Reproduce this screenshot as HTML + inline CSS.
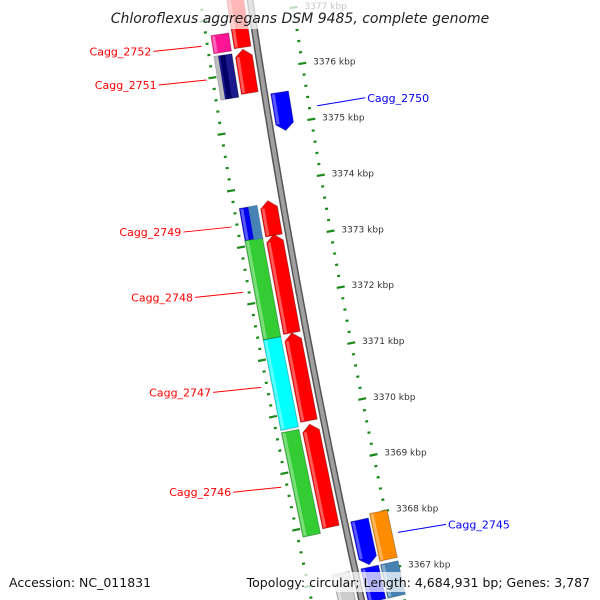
<!DOCTYPE html>
<html><head><meta charset="utf-8"><style>
body{margin:0;background:#fff;width:600px;height:600px;overflow:hidden}
svg{display:block;font-family:"DejaVu Sans","Liberation Sans",sans-serif}
</style></head><body>
<svg id="map" width="600" height="600" viewBox="0 0 600 600"></svg>
<script>
// ---- data ----
const tickKbp = [3378,3377,3376,3375,3374,3373,3372,3371,3370,3369,3368,3367,3366];
const tickLabels = ["3378 kbp","3377 kbp","3376 kbp","3375 kbp","3374 kbp","3373 kbp","3372 kbp","3371 kbp","3370 kbp","3369 kbp","3368 kbp","3367 kbp","3366 kbp"];
const geneStart = [3377.42,3376.73,3376.36,3376.41,3375.56,3373.67,3373.72,3373.12,3373.10,3371.37,3371.34,3369.75,3369.70,3367.94,3368.01,3367.10,3367.10,3367.10];
const geneEnd   = [3376.44,3376.41,3375.59,3375.63,3374.88,3373.08,3373.10,3371.37,3371.34,3369.81,3369.74,3367.92,3367.85,3367.14,3367.16,3366.50,3366.50,3366.50];
const geneTrack = [1,0,0,1,2,0,1,1,0,1,0,1,0,2,3,2,1,3];
const geneColor = ["#ff0000","#ff1493","#1a1a8c","#ff0000","#0000ff","#0000ee","#ff0000","#ff0000","#33cc33","#ff0000","#00ffff","#ff0000","#33cc33","#0000ff","#ff8c00","#0000ff","#cccccc","#4682b4"];
const geneArrow = [1,0,0,1,-1,0,1,1,0,1,0,1,0,-1,0,0,0,0];
const labelNames = ["Cagg_2752","Cagg_2751","Cagg_2750","Cagg_2749","Cagg_2748","Cagg_2747","Cagg_2746","Cagg_2745"];
const labelGene = [1,2,4,5,8,10,12,14];
const labelSide = [-1,-1,1,-1,-1,-1,-1,1];

// ---- axis functions ----
const NS="http://www.w3.org/2000/svg";
const svg=document.getElementById('map');
function tOf(k){return 70+(3376-k)*56.2;}
function X(t){return 250+0.15*t+0.00006*t*t;}
function pt(t,d){const dx=0.15+0.00012*t;const n=Math.sqrt(1+dx*dx);return [X(t)+d/n, t-d*dx/n];}
const trackD=[[-44,-26],[-23,-6],[6,24],[26,44]];
function mk(tag,attrs,parent){const e=document.createElementNS(NS,tag);for(const k in attrs)e.setAttribute(k,attrs[k]);(parent||svg).appendChild(e);return e;}
function P(a){return a.map(p=>p[0].toFixed(1)+','+p[1].toFixed(1)).join(' ');}

// backbone
let bb=[];for(let t=-10;t<=610;t+=5)bb.push(pt(t,0));
const back=mk('polyline',{points:P(bb),fill:'none',stroke:'#555',"stroke-width":7});


const back2=mk('polyline',{points:P(bb),fill:'none',stroke:'#a0a0a0',"stroke-width":4});



// ticks
[-49,42].forEach((d,side)=>{
  for(let k=3378;k>=3366-0.001;k-=0.2){
    const t=tOf(k);if(t<-10||t>610)continue;
    const major=Math.abs(k-Math.round(k))<0.01;
    const len=major?4:1.5;
    const a=pt(t,d-len),b=pt(t,d+len);
    const tk=mk('line',{x1:a[0],y1:a[1],x2:b[0],y2:b[1],stroke:'#1a8a1a',"stroke-width":2.2});
    
    
  }
});
tickKbp.forEach((k,i)=>{
  const t=tOf(k);if(t<0||t>600)return;
  const p=pt(t,53);
  const tx=mk('text',{x:p[0],y:p[1]+3,"font-size":9,fill:'#333'});
  tx.textContent=tickLabels[i];
  
  
});

// genes
const genePos=[];
geneStart.forEach((s,i)=>{
  const t1=tOf(s),t2=tOf(geneEnd[i]);const [dl,dr]=trackD[geneTrack[i]];const dm=(dl+dr)/2;const h=7;
  let pts;
  if(geneArrow[i]===1) pts=[pt(t2,dl),pt(t2,dr),pt(t1+h,dr),pt(t1,dm),pt(t1+h,dl)];
  else if(geneArrow[i]===-1) pts=[pt(t1,dl),pt(t1,dr),pt(t2-h,dr),pt(t2,dm),pt(t2-h,dl)];
  else pts=[pt(t1,dl),pt(t1,dr),pt(t2,dr),pt(t2,dl)];
  const g=mk('polygon',{points:P(pts),fill:geneColor[i],stroke:'rgba(0,0,0,0.25)',"stroke-width":1});
  
  
  const hl=[pt(t1+(geneArrow[i]===1?h:1),dl+1),pt(t1+(geneArrow[i]===1?h:1),dl+4),pt(t2-(geneArrow[i]===-1?h:1),dl+4),pt(t2-(geneArrow[i]===-1?h:1),dl+1)];
  const hh=mk('polygon',{points:P(hl),fill:'rgba(255,255,255,0.35)'});
  
  
  genePos.push([t1,t2,dl,dr]);
});
// striped detail for Cagg_2751
{const [t1,t2]=genePos[2];const s=mk('polygon',{points:P([pt(t1,-38),pt(t1,-33),pt(t2,-33),pt(t2,-38)]),fill:'#000066'});

const s2=mk('polygon',{points:P([pt(t1,-44),pt(t1,-40),pt(t2,-40),pt(t2,-44)]),fill:'#bbbbbb'});
}
// steelblue half of Cagg_2749
{const [t1,t2]=genePos[5];const s=mk('polygon',{points:P([pt(t1,-35),pt(t1,-26),pt(t2,-26),pt(t2,-35)]),fill:'#4682b4'});
}

// labels
labelNames.forEach((nm,i)=>{
  const g=genePos[labelGene[i]];const tm=(g[0]+g[1])/2;const side=labelSide[i];
  const col=side<0?'#ff0000':'#0000ff';
  const a=pt(tm,side<0?-55:50);const b=[a[0]+side*48,a[1]+(side<0?5:-8)];
  const ln=mk('line',{x1:a[0],y1:a[1],x2:b[0],y2:b[1],stroke:col,"stroke-width":1});
  
  
  const tx=mk('text',{x:b[0]+side*2,y:b[1]+4,"font-size":11,fill:col,"text-anchor":side<0?'end':'start'});
  tx.textContent=nm;
  
  
});

// title & footer
const tb=mk('rect',{x:0,y:0,width:600,height:29,fill:'rgba(255,255,255,0.72)'});

const ti=mk('text',{x:300,y:23,"font-size":14,"font-style":'italic',"text-anchor":'middle',fill:'#222'});
ti.textContent='Chloroflexus aggregans DSM 9485, complete genome';

const fb=mk('rect',{x:0,y:572,width:600,height:20,fill:'rgba(255,255,255,0.72)'});

const f1=mk('text',{x:9,y:587,"font-size":12.5,fill:'#111'});
f1.textContent='Accession: NC_011831';

const f2=mk('text',{x:590,y:587,"font-size":12.5,fill:'#111',"text-anchor":'end'});
f2.textContent='Topology: circular; Length: 4,684,931 bp; Genes: 3,787';

</script>
</body></html>
